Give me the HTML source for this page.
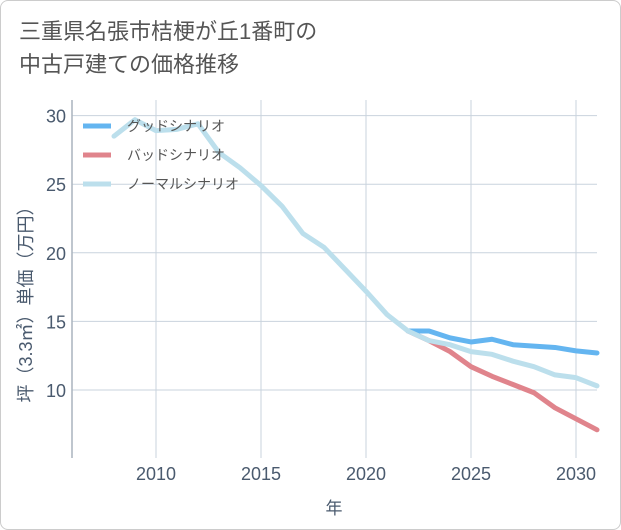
<!DOCTYPE html>
<html><head><meta charset="utf-8"><style>
html,body{margin:0;padding:0;background:#fff;}
#frame{position:absolute;left:0;top:0;width:619px;height:528px;border:1px solid #ccc;border-radius:8px;background:#fff;overflow:hidden;}
#title{position:absolute;left:18px;top:14px;font:22px "Liberation Sans","Noto Sans CJK JP",sans-serif;color:#555;line-height:33px;}
svg text{font-family:"Liberation Sans","Noto Sans CJK JP",sans-serif;}
</style></head><body>
<div id="frame">
<div id="title">三重県名張市桔梗が丘1番町の<br>中古戸建ての価格推移</div>
<svg id="chart" width="621" height="530" style="position:absolute;left:-1px;top:-1px"></svg>
</div>
<script>
const years=[2008,2009,2010,2011,2012,2013,2014,2015,2016,2017,2018,2019,2020,2021,2022,2023,2024,2025,2026,2027,2028,2029,2030,2031];
const normal=[28.5,29.7,28.9,29.0,29.4,27.3,26.2,24.9,23.4,21.4,20.4,18.8,17.2,15.5,14.3,13.6,13.3,12.8,12.6,12.1,11.7,11.1,10.9,10.3];
const goodYears=[2022,2023,2024,2025,2026,2027,2028,2029,2030,2031];
const good=[14.3,14.3,13.8,13.5,13.7,13.3,13.2,13.1,12.85,12.7];
const bad=[14.3,13.6,12.8,11.7,11.0,10.4,9.8,8.7,7.9,7.1];
const xTicks=[2010,2015,2020,2025,2030];
const yTicks=[10,15,20,25,30];
const legendLabels=["グッドシナリオ","バッドシナリオ","ノーマルシナリオ"];
const colors=["#64b5f0","#e0848c","#bcdfec"];

const L=72,R=597,T=100,B=458;
const x=v=>L+(v-2006)/(2031-2006)*(R-L);
const y=v=>390+(10-v)*13.72;
const svg=document.getElementById('chart');
const NS='http://www.w3.org/2000/svg';
function mk(tag,attrs){const e=document.createElementNS(NS,tag);for(const k in attrs)e.setAttribute(k,attrs[k]);svg.appendChild(e);return e;}

yTicks.forEach(t=>{
 const g=mk('line',{x1:L,x2:R,y1:y(t),y2:y(t),stroke:'#c9d3dd','stroke-width':1});
 
 
 const tx=mk('text',{x:66,y:y(t)+7,'text-anchor':'end','font-size':18,fill:'#4a5a6e'});
 tx.textContent=t;
 
 
});
xTicks.forEach(t=>{
 const g=mk('line',{x1:x(t),x2:x(t),y1:T,y2:B,stroke:'#c9d3dd','stroke-width':1});
 
 
 const tx=mk('text',{x:x(t),y:480,'text-anchor':'middle','font-size':18,fill:'#4a5a6e'});
 tx.textContent=t;
 
 
});
const ax=mk('line',{x1:L,x2:L,y1:T,y2:B,stroke:'#aab4be','stroke-width':1.5});



function line(xs,vs,c,name){
 const p=mk('polyline',{points:xs.map((v,i)=>x(v)+','+y(vs[i])).join(' '),fill:'none',stroke:c,'stroke-width':5,'stroke-linejoin':'round','stroke-linecap':'round'});
 
 
}
line(goodYears,bad,colors[1],'bad-scenario-line');
line(goodYears,good,colors[0],'good-scenario-line');
line(years,normal,colors[2],'normal-scenario-line');

legendLabels.forEach((lb,i)=>{
 const yy=126+i*29;
 const s=mk('line',{x1:83,x2:111,y1:yy,y2:yy,stroke:colors[i],'stroke-width':5});
 
 
 const t=mk('text',{x:127,y:yy+5,'font-size':14,fill:'#555'});
 t.textContent=lb;
 
 
});

const xt=mk('text',{x:334,y:514,'text-anchor':'middle','font-size':17,fill:'#4a5a6e'});
xt.textContent='年';


const yt=mk('text',{x:0,y:0,'text-anchor':'middle','font-size':18,fill:'#4a5a6e',transform:'translate(32,300) rotate(-90)'});
yt.textContent='坪（3.3㎡）単価（万円）';


</script>
</body></html>
